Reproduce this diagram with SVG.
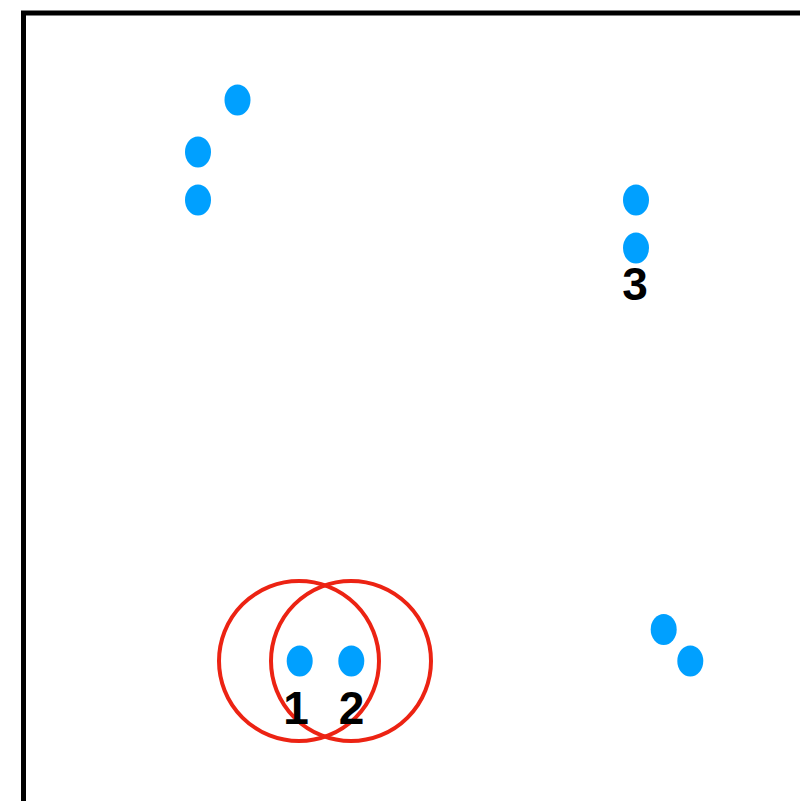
<svg xmlns="http://www.w3.org/2000/svg" width="800" height="801" viewBox="0 0 800 801">
<style>
.dot{fill:#00a0ff}
.ring{fill:none;stroke:#ec2313;stroke-width:4}
.lbl{font-family:"Liberation Sans",Arial,sans-serif;font-weight:bold;font-size:46px;fill:#000;text-anchor:middle}
</style>
<rect x="0" y="0" width="800" height="801" fill="#fff"/>
<rect x="23.5" y="13" width="820" height="820" fill="none" stroke="#000" stroke-width="5"/>
<g id="connectors"/>
<g id="ring1"><circle class="ring" cx="299" cy="661" r="80"/></g>
<g id="ring2"><circle class="ring" cx="351" cy="661" r="80"/></g>
<g id="n1"><ellipse class="dot" cx="237.5" cy="100" rx="13" ry="15.5"/></g>
<g id="n2"><ellipse class="dot" cx="198" cy="152" rx="13" ry="15.5"/></g>
<g id="n3"><ellipse class="dot" cx="198" cy="200" rx="13" ry="15.5"/></g>
<g id="n4"><ellipse class="dot" cx="636" cy="200" rx="13" ry="15.5"/></g>
<g id="n5"><ellipse class="dot" cx="636" cy="248" rx="13" ry="15.5"/><text class="lbl" x="635" y="300">3</text></g>
<g id="n6"><ellipse class="dot" cx="299.7" cy="661" rx="13" ry="15.5"/><text class="lbl" x="296" y="724">1</text></g>
<g id="n7"><ellipse class="dot" cx="351.3" cy="661" rx="13" ry="15.5"/><text class="lbl" x="351.5" y="724">2</text></g>
<g id="n8"><ellipse class="dot" cx="663.7" cy="629.5" rx="13" ry="15.5"/></g>
<g id="n9"><ellipse class="dot" cx="690.3" cy="661" rx="13" ry="15.5"/></g>
</svg>
